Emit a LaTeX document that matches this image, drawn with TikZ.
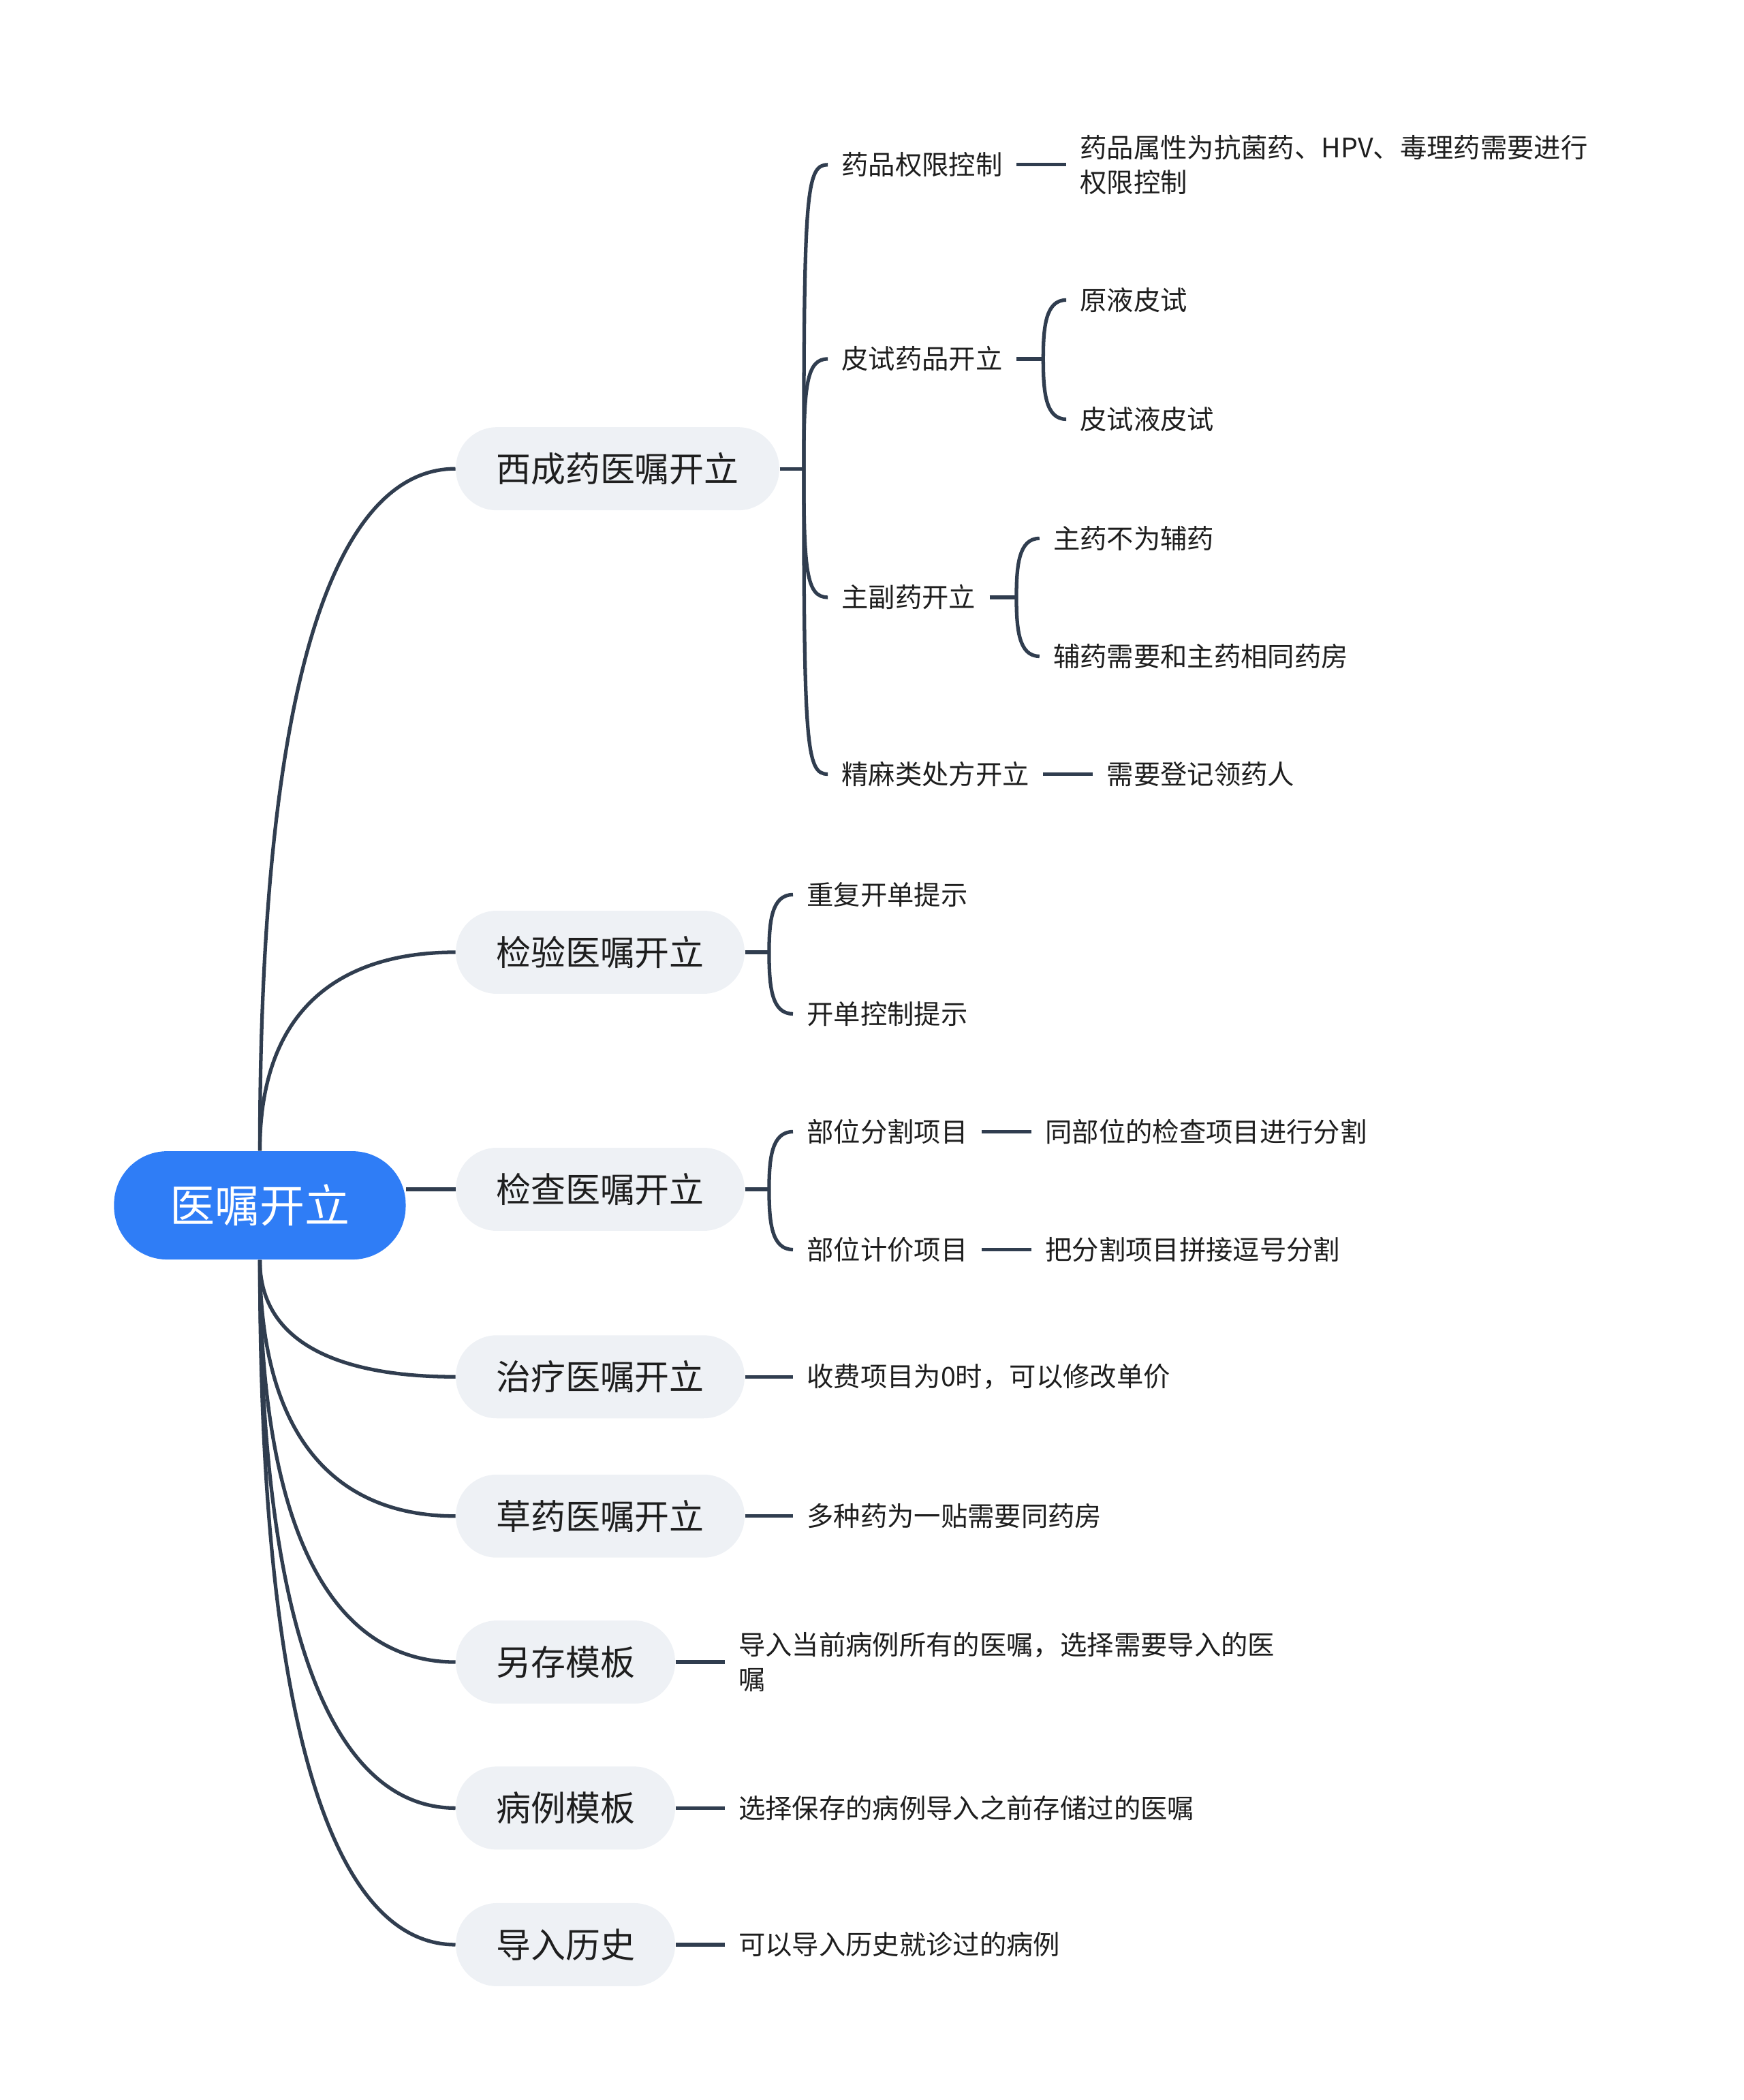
\documentclass[tikz,border=0pt]{standalone}
\usepackage{fontspec}
\newfontfamily\cjk{Noto Sans CJK SC}
\usetikzlibrary{calc,positioning}
\definecolor{mmblue}{RGB}{47,125,246}
\definecolor{mmgray}{RGB}{238,241,245}
\definecolor{mmline}{RGB}{48,61,79}
\definecolor{mmtext}{RGB}{30,30,30}
\tikzset{
  rootnode/.style={fill=mmblue,text=white,rounded corners=0.78cm,minimum height=1.59cm,
    inner xsep=0.82cm,font=\cjk\fontsize{18.8}{22}\selectfont},
  topicnode/.style={anchor=west,fill=mmgray,text=mmtext,rounded corners=0.6cm,minimum height=1.22cm,
    inner xsep=0.59cm,font=\cjk\fontsize{14.5}{18}\selectfont},
  itemnode/.style={anchor=west,text=mmtext,inner sep=0.197cm,align=left,
    font=\cjk\fontsize{11.2}{14.5}\selectfont},
  link/.style={draw=mmline,line width=1.5pt},
  curvelink/.style 2 args={to path={.. controls ($(\tikztostart|-\tikztotarget)!#1!(\tikztostart)$)
    and ($(\tikztotarget)!#2!(\tikztostart|-\tikztotarget)$) .. (\tikztotarget) \tikztonodes}},
  rootlink/.style={link,curvelink={0.25}{0.55}},
  bracelink/.style={link,curvelink={0.4cm}{0.9}},
}
\begin{document}
\begin{tikzpicture}[x=0.019662cm,y=-0.019662cm]
  \useasboundingbox (0,0) rectangle (1302,1568);
  % Central topic
  \node[rootnode] (root) at (194,900) {医嘱开立};
  % Main branches
  \node[topicnode] (t1) at (340,350)  {西成药医嘱开立};
  \node[topicnode] (t2) at (340,711)  {检验医嘱开立};
  \node[topicnode] (t3) at (340,888)  {检查医嘱开立};
  \node[topicnode] (t4) at (340,1028) {治疗医嘱开立};
  \node[topicnode] (t5) at (340,1132) {草药医嘱开立};
  \node[topicnode] (t6) at (340,1241) {另存模板};
  \node[topicnode] (t7) at (340,1350) {病例模板};
  \node[topicnode] (t8) at (340,1452) {导入历史};
  % Branch connectors
  \draw[rootlink] (root.north) to (t1.west);
  \draw[rootlink] (root.north) to (t2.west);
  \draw[link] (root.east |- t3.west) -- (t3.west);
  \foreach \t in {t4,t5,t6,t7,t8}
    \draw[rootlink] (root.south) to (\t.west);
  % Western medicine subtree
  \node[itemnode] (a1) at (618,123) {药品权限控制};
  \node[itemnode] (a2) at (618,268) {皮试药品开立};
  \node[itemnode] (a3) at (618,446) {主副药开立};
  \node[itemnode] (a4) at (618,578) {精麻类处方开立};
  \coordinate (j1) at ($(t1.east)+(18,0)$);
  \draw[link] (t1.east) -- (j1);
  \foreach \a in {a1,a2,a3,a4}
    \draw[bracelink] (j1) to (\a.west);
  \node[itemnode] (a1x) at (796,123) {药品属性为抗菌药、HPV、毒理药需要进行\\权限控制};
  \draw[link] (a1) -- (a1x);
  \node[itemnode] (a2x) at (796,224) {原液皮试};
  \node[itemnode] (a2y) at (796,313) {皮试液皮试};
  \coordinate (ja2) at ($(a2.east)+(20,0)$);
  \draw[link] (a2.east) -- (ja2);
  \draw[bracelink] (ja2) to (a2x.west);
  \draw[bracelink] (ja2) to (a2y.west);
  \node[itemnode] (a3x) at (776,402) {主药不为辅药};
  \node[itemnode] (a3y) at (776,490) {辅药需要和主药相同药房};
  \coordinate (ja3) at ($(a3.east)+(20,0)$);
  \draw[link] (a3.east) -- (ja3);
  \draw[bracelink] (ja3) to (a3x.west);
  \draw[bracelink] (ja3) to (a3y.west);
  \node[itemnode] (a4x) at (816,578) {需要登记领药人};
  \draw[link] (a4) -- (a4x);
  % Lab orders
  \node[itemnode] (b1) at (592,668) {重复开单提示};
  \node[itemnode] (b2) at (592,757) {开单控制提示};
  \coordinate (j2) at ($(t2.east)+(18,0)$);
  \draw[link] (t2.east) -- (j2);
  \draw[bracelink] (j2) to (b1.west);
  \draw[bracelink] (j2) to (b2.west);
  % Exam orders
  \node[itemnode] (c1) at (592,845) {部位分割项目};
  \node[itemnode] (c2) at (592,933) {部位计价项目};
  \coordinate (j3) at ($(t3.east)+(18,0)$);
  \draw[link] (t3.east) -- (j3);
  \draw[bracelink] (j3) to (c1.west);
  \draw[bracelink] (j3) to (c2.west);
  \node[itemnode] (c1x) at (770,845) {同部位的检查项目进行分割};
  \node[itemnode] (c2x) at (770,933) {把分割项目拼接逗号分割};
  \draw[link] (c1) -- (c1x);
  \draw[link] (c2) -- (c2x);
  % Single leaves
  \node[itemnode] (d1) at (592,1028) {收费项目为0时，可以修改单价};
  \node[itemnode] (e1) at (592,1132) {多种药为一贴需要同药房};
  \node[itemnode] (f1) at (541,1241) {导入当前病例所有的医嘱，选择需要导入的医\\嘱};
  \node[itemnode] (g1) at (541,1350) {选择保存的病例导入之前存储过的医嘱};
  \node[itemnode] (h1) at (541,1452) {可以导入历史就诊过的病例};
  \draw[link] (t4) -- (d1);
  \draw[link] (t5) -- (e1);
  \draw[link] (t6) -- (f1);
  \draw[link] (t7) -- (g1);
  \draw[link] (t8) -- (h1);
\end{tikzpicture}
\end{document}
